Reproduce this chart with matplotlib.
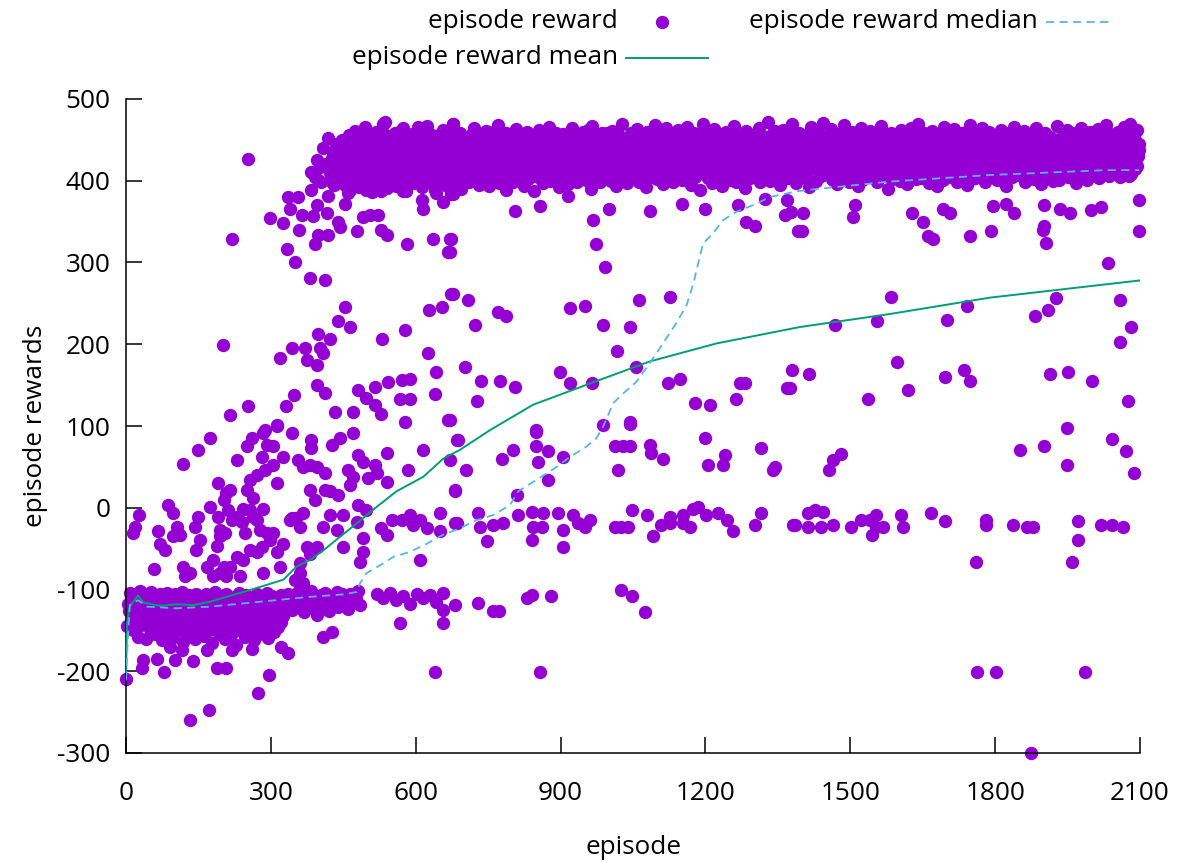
import matplotlib
matplotlib.use('Agg')
import matplotlib.pyplot as plt
from matplotlib.lines import Line2D
import numpy as np

plt.rcParams['font.family'] = ['Open Sans', 'DejaVu Sans']
plt.rcParams['axes.unicode_minus'] = False

# early failures, one point every 2 episodes starting at 0
low_start, low_step = 0, 2
low_rw = [-210, -145, -118, -126, -104, -138, -112, -150, -108, -121, -132, -106, -158, -115, -127, -102, -143, -119, -110, -136,
          -124, -161, -107, -130, -117, -148, -103, -125, -139, -113, -155, -109, -128, -120, -146, -105, -133, -162, -116, -111,
          -141, -122, -104, -153, -127, -114, -137, -108, -159, -123, -131, -106, -145, -118, -126, -150, -110, -135, -103, -164,
          -121, -140, -113, -129, -156, -107, -134, -119, -147, -111, -125, -160, -105, -138, -116, -130, -152, -109, -143, -124,
          -114, -157, -128, -106, -139, -121, -149, -112, -133, -165, -118, -127, -103, -144, -131, -110, -154, -123, -136, -108,
          -148, -117, -129, -161, -105, -140, -122, -135, -112, -156, -126, -143, -109, -131, -168, -119, -138, -104, -150, -125,
          -113, -145, -132, -158, -107, -128, -141, -116, -153, -121, -134, -110, -147, -162, -124, -139, -106, -130, -155, -118,
          -142, -111, -127, -149, -120, -136, -104, -159, -115, -131, -144, -108, -125, -152, -118, -137, -112, -146, -122, -129,
          -107, -140, -117, -133, -113, -121]

# stuck around -110, every 4 episodes from 332
stuck_start, stuck_step = 332, 4
stuck_rw = [-112, -106, -119, -125, -108, -115, -103, -121, -110, -128, -105, -117, -113, -102, -123, -109, -131, -114, -107, -120,
            -104, -116, -126, -111, -108, -118, -103, -122, -113, -106, -115, -110, -124, -105, -117, -108, -112, -102, -119]

# converged band, every 2 episodes from 450
band_start, band_step = 450, 2
band_rw = [
    412, 438, 395, 447, 421, 403, 456, 389, 430, 415, 442, 398, 461, 425, 407, 434, 392, 451, 418, 440, 401, 428, 466, 410, 436,
    423, 398, 452, 415, 437, 386, 444, 428, 407, 460, 419, 433, 395, 448, 412, 426, 469, 404, 439, 417, 391, 455, 430, 409, 443,
    416, 449, 402, 431, 458, 394, 425, 411, 446, 420, 399, 436, 464, 413, 428, 388, 451, 422, 405, 440, 418, 457, 397, 433, 410,
    444, 421, 403, 459, 427, 414, 437, 392, 450, 418, 430, 406, 467, 424, 441, 399, 453, 415, 429, 408, 446, 385, 435, 420, 456,
    411, 438, 400, 462, 426, 417, 445, 393, 431, 454, 409, 422, 440, 396, 470, 419, 434, 405, 448, 427, 413, 459, 390, 437, 423,
    447, 404, 429, 416, 452, 398, 441, 420, 435, 410, 465, 426, 401, 443, 418, 457, 395, 432, 412, 449, 424, 407, 439, 461, 415,
    428, 393, 446, 419, 434, 455, 406, 422, 440, 411, 468, 397, 431, 417, 450, 403, 436, 425, 389, 458, 414, 442, 420, 408, 453,
    430, 399, 447, 416, 463, 422, 438, 405, 451, 427, 412, 444, 394, 433, 418, 460, 402, 429, 441, 410, 456, 423, 387, 436, 414,
    449, 420, 404, 462, 431, 415, 443, 397, 426, 454, 409, 437, 421, 466, 400, 432, 418, 448, 406, 428, 458, 413, 439, 392, 424,
    445, 411, 430, 457, 403, 436, 419, 449, 396, 427, 441, 414, 464, 408, 433, 422, 452, 399, 438, 416, 447, 405, 429, 460, 418,
    434, 401, 455, 423, 410, 442, 390, 431, 467, 415, 437, 404, 450, 426, 413, 446, 398, 428, 459, 419, 435, 407, 444, 421, 453,
    412, 439, 400, 461, 425, 417, 448, 394, 433, 456, 409, 430, 442, 403, 469, 422, 436, 414, 451, 397, 427, 445, 411, 458, 420,
    437, 406, 449, 418, 463, 428, 399, 441, 415, 454, 424, 410, 446, 392, 432, 460, 417, 435, 404, 452, 426, 413, 443, 468, 421,
    402, 440, 427, 457, 411, 434, 396, 448, 419, 465, 430, 405, 445, 423, 414, 455, 398, 438, 426, 450, 408, 431, 462, 416, 442,
    425, 401, 453, 418, 436, 409, 466, 429, 412, 447, 395, 433, 420, 459, 404, 440, 427, 414, 451, 389, 437, 423, 470, 410, 444,
    431, 416, 458, 403, 439, 422, 449, 397, 428, 463, 411, 435, 419, 454, 407, 442, 425, 393, 446, 430, 413, 460, 418, 436, 401,
    452, 424, 410, 445, 432, 467, 415, 399, 438, 421, 456, 406, 429, 448, 412, 435, 391, 461, 426, 417, 443, 403, 450, 428, 414,
    439, 457, 408, 430, 420, 464, 398, 441, 425, 411, 453, 434, 405, 447, 419, 472, 427, 400, 436, 416, 458, 423, 409, 444, 431,
    417, 450, 395, 437, 426, 462, 412, 440, 421, 455, 403, 433, 418, 446, 407, 469, 429, 414, 452, 397, 438, 424, 459, 410, 443,
    428, 404, 456, 419, 435, 411, 448, 392, 430, 466, 416, 441, 422, 453, 400, 437, 425, 460, 413, 445, 406, 432, 471, 418, 439,
    423, 451, 409, 436, 417, 463, 402, 444, 429, 413, 457, 396, 434, 420, 449, 405, 440, 426, 468, 411, 447, 415, 431, 454, 399,
    437, 422, 460, 408, 443, 427, 414, 452, 394, 433, 419, 465, 401, 439, 425, 456, 410, 446, 418, 430, 461, 404, 435, 421, 448,
    412, 438, 457, 398, 429, 444, 416, 467, 423, 406, 450, 433, 411, 442, 390, 436, 420, 459, 402, 447, 426, 413, 453, 431, 417,
    445, 400, 462, 424, 437, 409, 451, 419, 434, 396, 448, 427, 414, 464, 405, 441, 422, 455, 410, 432, 469, 418, 439, 403, 446,
    425, 458, 411, 436, 420, 452, 397, 443, 428, 415, 461, 407, 438, 423, 449, 393, 431, 456, 414, 444, 426, 401, 466, 419, 435,
    410, 447, 429, 454, 404, 440, 421, 463, 416, 432, 399, 450, 425, 412, 445, 437, 459, 408, 430, 418, 453, 395, 441, 427, 468,
    414, 439, 422, 457, 403, 446, 430, 411, 452, 420, 436, 465, 406, 443, 425, 398, 448, 417, 434, 460, 409, 438, 423, 451, 413,
    442, 427, 401, 455, 433, 418, 462, 408, 437, 424, 449, 394, 431, 415, 458, 421, 444, 405, 439, 428, 466, 412, 447, 420, 435,
    407, 453, 426, 440, 416, 461, 399, 432, 448, 419, 436, 410, 457, 423, 443, 402, 429, 464, 414, 438, 425, 451, 396, 434, 421,
    446, 413, 459, 430, 405, 441, 424, 454, 417, 437, 400, 450, 428, 412, 467, 433, 419, 445, 408, 426, 456, 415, 439, 422, 462,
    404, 436, 448, 420, 431, 458, 410, 442, 427, 397, 453, 416, 435, 423, 465, 407, 440, 429, 414, 451, 401, 438, 425, 460, 418,
    432, 447, 409, 455, 426, 439, 415, 463, 403, 444, 421, 436, 452, 411, 430, 468, 419, 441, 406, 457, 428, 413, 449, 434, 424,
    442, 416, 460, 429, 405, 451, 437, 420, 466, 411, 445, 427, 455, 418, 433, 470, 408, 448, 425, 458, 414, 439, 462, 430, 445,
]

# more band episodes, every 4 episodes from 485
band2_start, band2_step = 485, 4
band2_rw = [
    431, 409, 447, 420, 455, 414, 438, 402, 449, 426, 417, 458, 433, 406, 444, 421, 452, 411, 437, 427, 460, 404, 441, 418, 450,
    425, 446, 408, 435, 457, 419, 430, 403, 448, 422, 439, 412, 456, 428, 401, 443, 416, 453, 432, 409, 447, 424, 436, 459, 413,
    440, 405, 451, 427, 418, 445, 434, 410, 457, 421, 438, 404, 449, 429, 415, 454, 436, 407, 442, 423, 461, 411, 433, 448, 419,
    452, 426, 409, 444, 437, 414, 458, 402, 431, 447, 420, 439, 455, 408, 428, 445, 417, 434, 459, 412, 441, 424, 450, 403, 437,
    418, 454, 430, 406, 446, 422, 439, 413, 457, 427, 400, 443, 435, 451, 410, 426, 448, 419, 462, 404, 438, 429, 416, 453, 433,
    407, 445, 424, 458, 415, 436, 449, 411, 430, 455, 421, 442, 403, 447, 428, 418, 456, 434, 409, 440, 425, 452, 414, 437, 460,
    429, 412, 450, 433, 405, 444, 420, 457, 438, 416, 448, 401, 432, 453, 423, 441, 410, 459, 427, 417, 446, 435, 406, 451, 422,
    443, 419, 455, 408, 437, 426, 449, 414, 431, 460, 403, 440, 424, 452, 411, 434, 447, 420, 457, 428, 413, 445, 436, 402, 450,
    425, 439, 417, 456, 430, 409, 448, 422, 441, 406, 453, 432, 419, 445, 427, 461, 412, 436, 450, 404, 429, 443, 418, 455, 434,
    410, 447, 428, 452, 415, 438, 403, 446, 423, 459, 431, 414, 442, 426, 408, 454, 437, 421, 449, 433, 401, 444, 419, 457, 430,
    416, 451, 435, 407, 443, 425, 458, 412, 439, 420, 448, 430, 405, 455, 424, 441, 413, 450, 436, 418, 460, 427, 409, 446, 432,
    448, 421, 404, 454, 433, 415, 445, 428, 411, 457, 438, 422, 449, 402, 435, 443, 417, 453, 426, 440, 408, 451, 431, 414, 447,
    423, 456, 437, 410, 444, 419, 452, 429, 406, 447, 434, 416, 459, 425, 439, 412, 450, 431, 403, 442, 420, 455, 436, 411, 448,
    432, 417, 453, 426, 441, 405, 449, 420, 437, 458, 413, 430, 446, 422, 408, 454, 435, 418, 451, 428, 440, 402, 447, 424, 459,
    415, 443, 431, 456, 409, 438, 422, 450, 427, 414, 445, 436, 401, 452, 429, 419, 457, 433, 411, 441, 426, 448, 407, 437, 454,
    420, 446, 434, 412, 451, 425, 439, 404, 457, 430, 416, 449, 423, 442, 410, 455, 436, 419, 447, 428, 413, 452, 440, 406, 445,
    427, 450, 418, 438,
]

# scattered episodes (episode, reward)
scatter_pts = [
    (57, -75), (88, 3), (98, -7), (26, -9), (19, -23), (15, -31), (67, -29), (70, -44), (81, -52), (105, -23), (98, -35),
    (112, -33), (119, 54), (150, 71), (173, 85), (119, -72), (122, -84), (133, -80), (150, -11), (143, -23), (153, -39),
    (146, -52), (174, 1), (191, 30), (208, 18), (215, 22), (202, 10), (191, -11), (212, -3), (195, -35), (188, -47),
    (181, -64), (167, -72), (181, -84), (195, -80), (208, -84), (202, -72), (229, 58), (250, 75), (260, 85), (284, 91),
    (312, 100), (343, 91), (305, 75), (281, 62), (291, 77), (257, 34), (271, 40), (288, 46), (305, 52), (326, 62), (312, 30),
    (250, 22), (264, 12), (243, -1), (257, -3), (229, -11), (219, -15), (240, -17), (264, -11), (284, -1), (271, -15),
    (195, -27), (205, -31), (246, -31), (278, -27), (291, -31), (305, -31), (326, -44), (298, -39), (312, -54), (281, -48),
    (271, -54), (257, -52), (243, -64), (229, -60), (215, -72), (236, -84), (284, -80), (319, -72), (340, -15), (353, -13),
    (367, -7), (357, 58), (367, 50), (381, 52), (395, 50), (412, 42), (381, 22), (391, 9), (412, 22), (422, 20), (440, 16),
    (384, 83), (384, 73), (426, 77), (443, 85), (471, 91), (343, -13), (360, -23), (374, -48), (395, -48), (381, -56),
    (360, -68), (360, -80), (367, -92), (350, -88), (409, -23), (422, -9), (436, -27), (450, -9), (450, -48), (460, 46),
    (471, 38), (481, 64), (491, 56), (464, 28), (481, 3), (498, -3), (478, -17), (491, -37), (491, -54), (484, -66),
    (515, 52), (519, 42), (502, 36), (540, 67), (540, 32), (585, 46), (616, 71), (529, -25), (540, -33), (550, -15),
    (571, -15), (588, -9), (595, -21), (609, -15), (623, -25), (650, -29), (650, -7), (609, -64), (681, 22), (681, -19),
    (685, 83),
    (132, -260), (172, -247), (274, -227), (297, -204), (640, -201), (79, -201), (33, -196), (36, -186), (64, -185),
    (102, -186), (138, -187), (188, -196), (208, -196), (219, -174), (167, -174), (91, -170), (115, -174), (260, -173),
    (322, -170), (336, -178), (408, -158), (426, -152), (567, -141), (657, -125), (657, -141),
    (519, -106), (533, -110), (547, -104), (560, -113), (574, -108), (588, -118), (602, -105), (616, -111), (630, -107),
    (643, -115), (657, -104),
    (215, 114), (253, 124), (331, 124), (347, 138), (312, 101), (288, 95), (319, 183), (343, 195), (371, 195), (402, 195),
    (409, 189), (374, 181), (395, 175), (398, 213), (422, 207), (440, 228), (453, 246), (464, 221), (531, 206), (578, 217),
    (626, 189), (628, 242), (654, 246), (674, 261), (643, 166), (640, 139), (667, 107), (578, 105), (395, 150), (412, 140),
    (481, 144), (498, 134), (516, 126), (529, 115), (516, 148), (543, 154), (571, 156), (588, 158), (567, 133), (588, 133),
    (433, 117), (471, 117), (253, 427), (219, 329), (200, 199),
    (381, 281), (412, 278), (350, 301), (333, 317), (359, 340), (326, 348), (298, 354), (391, 323), (398, 334), (419, 334),
    (443, 344), (478, 338), (529, 340), (540, 334), (581, 323), (636, 329), (671, 329), (667, 313), (616, 366), (657, 374),
    (340, 366), (336, 380), (357, 380), (384, 389), (395, 370), (388, 357), (364, 358), (416, 361), (419, 381), (384, 411),
    (402, 417), (398, 401), (426, 399), (443, 401), (429, 435), (440, 350), (453, 372), (460, 385), (464, 440), (485, 456),
    (509, 446), (536, 472), (533, 458), (605, 466), (678, 470), (491, 356), (505, 358), (522, 358), (498, 389), (512, 393),
    (529, 387), (478, 413), (474, 429), (450, 417), (574, 387), (612, 376), (640, 389), (674, 384),
    (392, 405), (396, 425), (404, 398), (408, 440), (413, 420), (418, 452), (423, 410), (427, 428), (431, 395), (435, 445),
    (438, 418), (442, 432), (446, 405), (448, 450),
    (678, 384), (674, 329), (671, 313), (678, 261), (709, 254), (723, 223), (771, 240), (788, 235), (702, 172), (736, 155),
    (774, 155), (805, 148), (726, 130), (671, 107), (805, 363), (857, 369), (916, 381), (968, 352), (973, 323), (992, 295),
    (1001, 365), (1085, 363), (919, 244), (950, 247), (988, 224), (1043, 221), (1063, 254), (1126, 258), (1016, 192),
    (898, 166), (919, 153), (966, 153), (1057, 172), (1123, 152), (1147, 158), (1178, 128), (1209, 126), (1263, 133),
    (1271, 152), (1282, 152), (1380, 169), (1368, 146), (1043, 105), (988, 101), (850, 95), (1152, 372), (1199, 365),
    (1268, 370), (1285, 350), (1302, 345), (1323, 378), (1368, 376), (1364, 358), (1392, 338),
    (685, -19), (688, 83), (671, 58), (705, 46), (681, 20), (729, -7), (733, -23), (760, -21), (781, -19), (747, -41),
    (778, 60), (802, 71), (809, 16), (812, -9), (840, -5), (864, -7), (843, -23), (861, -23), (840, -39), (849, 93),
    (849, 75), (854, 56), (874, 69), (905, 62), (874, 34), (895, -7), (905, -27), (905, -48), (926, -9), (936, -19),
    (950, -23), (961, -15), (1043, 103), (1012, 75), (1030, 75), (1043, 75), (1019, 46), (1085, 77), (1088, 67), (1112, 60),
    (1047, -3), (1078, -9), (1012, -23), (1026, -23), (1040, -23), (1092, -35), (1109, -21), (1126, -11), (1126, -19),
    (1154, -9), (1154, -19), (1168, -23), (1175, -1), (1185, 1), (1202, -9), (1226, -7), (1244, -15), (1257, -29),
    (1302, -21), (1316, -7), (1382, -21), (1199, 85), (1206, 52), (1237, 52), (1240, 64), (1316, 73), (1340, 46), (1344, 50),
    (681, -119), (729, -117), (760, -126), (773, -126), (830, -110), (840, -107), (881, -108), (1026, -101), (1047, -108),
    (1074, -128), (857, -201),
    (1385, -21), (1413, -7), (1426, -3), (1444, -5), (1413, -23), (1440, -23), (1464, -21), (1502, -23), (1523, -15),
    (1540, -15), (1554, -9), (1554, -23), (1568, -23), (1544, -33), (1606, -9), (1609, -23), (1668, -7), (1696, -16),
    (1782, -15), (1782, -21), (1838, -21), (1865, -23), (1879, -23), (1972, -16), (1972, -39), (2020, -21), (2041, -21),
    (2065, -23), (1761, -66), (1960, -66), (1456, 46), (1464, 59), (1480, 66), (1851, 71), (1901, 76), (1948, 98),
    (1948, 52), (2041, 84), (2072, 69), (2087, 43), (1763, -201), (1801, -201), (1986, -201), (1875, -300),
    (1399, 338), (1402, 361), (1378, 362), (1509, 370), (1506, 356), (1627, 361), (1651, 349), (1661, 332), (1671, 329),
    (1692, 366), (1706, 361), (1747, 332), (1792, 338), (1796, 369), (1823, 372), (1840, 361), (1901, 370), (1901, 345),
    (1899, 340), (1905, 324), (1934, 366), (1954, 360), (1999, 364), (2020, 368), (2098, 377), (2098, 338), (2034, 299),
    (2058, 254), (1927, 256), (1910, 242), (1882, 235), (2082, 221), (2058, 203), (1742, 247), (1700, 230), (1584, 258),
    (1555, 229), (1468, 223), (1415, 164), (1596, 178), (1537, 133), (1620, 144), (1696, 160), (1735, 169), (1747, 155),
    (1913, 164), (1951, 166), (2001, 155), (2075, 130), (1375, 146),
]

mean_ep = [0, 2, 8, 25, 36, 70, 105, 139, 174, 208, 243, 277, 326, 353, 381, 409, 436, 478, 519, 560, 616, 657, 692,
           754, 843, 961, 1085, 1223, 1395, 1582, 1789, 2099]
mean_rw = [-210, -140, -121, -107, -116, -120, -118, -119, -115, -109, -103, -97, -88, -72, -64, -52, -39, -19, 1, 20, 38,
           60, 71, 95, 126, 152, 179, 201, 221, 237, 257, 278]

median_ep = [0, 3, 8, 25, 43, 105, 174, 243, 312, 381, 450, 478, 485, 498, 533, 554, 588, 623, 657, 692, 726, 760, 795,
             812, 850, 892, 919, 954, 974, 988, 1009, 1030, 1057, 1085, 1112, 1140, 1161, 1175, 1185, 1195, 1216, 1237,
             1264, 1306, 1333, 1388, 1416, 1582, 1789, 2030, 2099]
median_rw = [-210, -170, -119, -113, -121, -123, -121, -117, -113, -109, -106, -103, -92, -80, -68, -60, -54, -44, -33,
             -25, -15, -9, 3, 20, 34, 50, 62, 75, 85, 99, 128, 140, 154, 177, 201, 226, 248, 274, 299, 323, 336, 352, 362,
             372, 380, 387, 389, 399, 407, 413, 413]

purple = '#9400d3'
green = '#009e73'
blue = '#56b4e9'
fs = 18.8

ep = np.concatenate([low_start + low_step * np.arange(len(low_rw)),
                     stuck_start + stuck_step * np.arange(len(stuck_rw)),
                     band_start + band_step * np.arange(len(band_rw)),
                     band2_start + band2_step * np.arange(len(band2_rw)),
                     [p[0] for p in scatter_pts]])
rw = np.concatenate([low_rw, stuck_rw, band_rw, band2_rw, [p[1] for p in scatter_pts]])

W, H = 1184, 863
fig = plt.figure(figsize=(W / 100, H / 100), dpi=100)
ax = fig.add_axes([126 / W, 1 - 753 / H, (1140 - 126) / W, (753 - 99) / H])

ax.plot(ep, rw, 'o', color=purple, ms=9.6, mew=0, zorder=2, clip_on=False)
ax.plot(mean_ep, mean_rw, '-', color=green, lw=1.4, zorder=3)
ax.plot(median_ep, median_rw, color=blue, lw=1.3, dashes=(4.5, 3), zorder=4)

ax.set_xlim(0, 2100)
ax.set_ylim(-300, 500)
ax.set_xticks(range(0, 2101, 300))
ax.set_yticks(range(-300, 501, 100))
for s in ['top', 'right']:
    ax.spines[s].set_visible(False)
for s in ['left', 'bottom']:
    ax.spines[s].set_linewidth(1.1)
ax.tick_params(direction='in', length=11.5, width=1.1, labelsize=fs)
ax.tick_params(axis='y', pad=11)
ax.tick_params(axis='x', pad=20)
ax.set_xlabel('episode', fontsize=fs, labelpad=21)
ax.set_ylabel('episode rewards', fontsize=fs, labelpad=7)

# key at top, gnuplot style (text then sample)
def fx(x):
    return x / W

def fy(y):
    return 1 - y / H

fig.text(fx(618), fy(22), 'episode reward', ha='right', va='center', fontsize=fs)
fig.add_artist(Line2D([fx(662)], [fy(22)], marker='o', ms=9.6, mew=0, color=purple, transform=fig.transFigure))
fig.text(fx(1038), fy(22), 'episode reward median', ha='right', va='center', fontsize=fs)
fig.add_artist(Line2D([fx(1046), fx(1112)], [fy(22), fy(22)], color=blue, lw=1.3, dashes=(4.5, 3),
                      transform=fig.transFigure))
fig.text(fx(618), fy(58), 'episode reward mean', ha='right', va='center', fontsize=fs)
fig.add_artist(Line2D([fx(626), fx(708)], [fy(58), fy(58)], color=green, lw=1.4, transform=fig.transFigure))

fig.savefig('out.png', dpi=100)
